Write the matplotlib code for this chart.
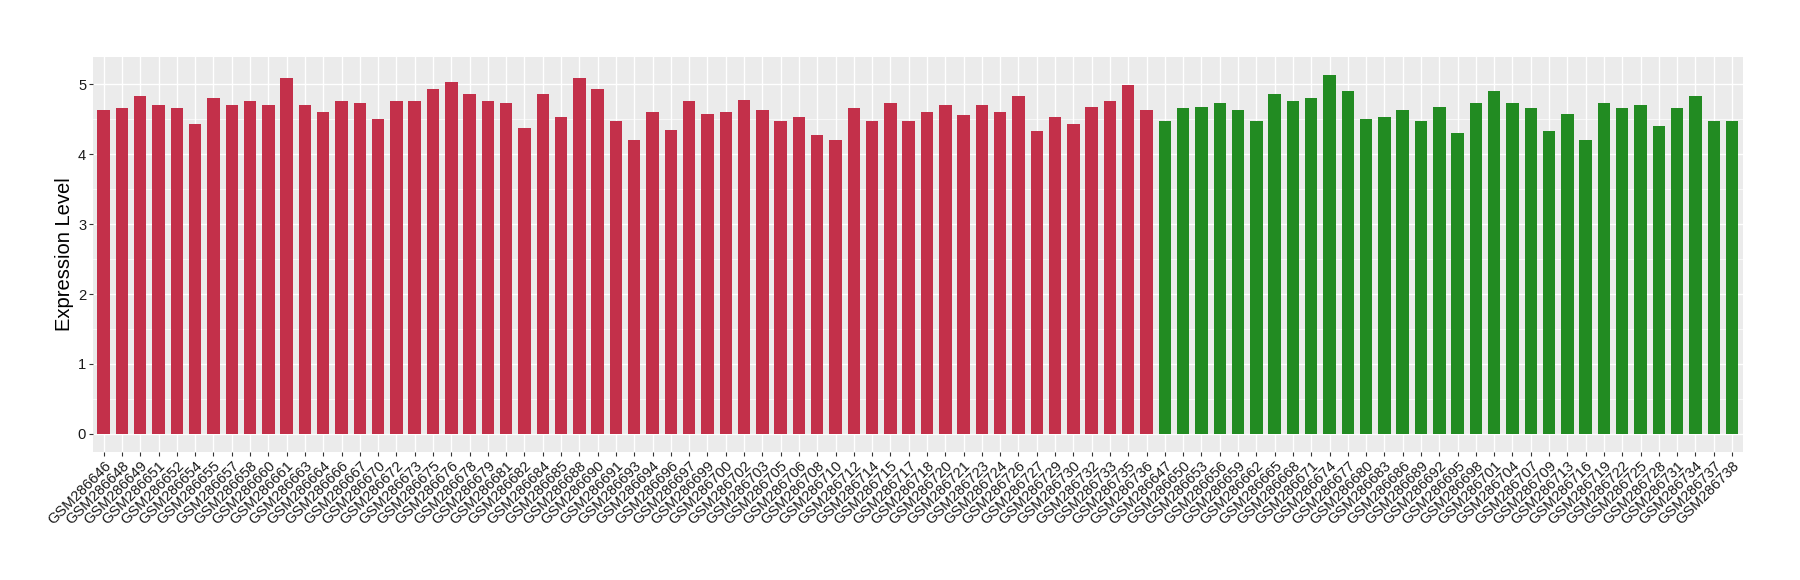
import matplotlib
matplotlib.use("Agg")
import matplotlib.pyplot as plt
from matplotlib.ticker import MultipleLocator
import numpy as np

group1_samples = ["GSM286646", "GSM286648", "GSM286649", "GSM286651", "GSM286652", "GSM286654",
                  "GSM286655", "GSM286657", "GSM286658", "GSM286660", "GSM286661", "GSM286663",
                  "GSM286664", "GSM286666", "GSM286667", "GSM286670", "GSM286672", "GSM286673",
                  "GSM286675", "GSM286676", "GSM286678", "GSM286679", "GSM286681", "GSM286682",
                  "GSM286684", "GSM286685", "GSM286688", "GSM286690", "GSM286691", "GSM286693",
                  "GSM286694", "GSM286696", "GSM286697", "GSM286699", "GSM286700", "GSM286702",
                  "GSM286703", "GSM286705", "GSM286706", "GSM286708", "GSM286710", "GSM286712",
                  "GSM286714", "GSM286715", "GSM286717", "GSM286718", "GSM286720", "GSM286721",
                  "GSM286723", "GSM286724", "GSM286726", "GSM286727", "GSM286729", "GSM286730",
                  "GSM286732", "GSM286733", "GSM286735", "GSM286736"]
group1_values = [4.64, 4.66, 4.84, 4.71, 4.66, 4.43, 4.81, 4.71, 4.77, 4.71,
                 5.09, 4.71, 4.60, 4.76, 4.73, 4.50, 4.76, 4.77, 4.93, 5.04,
                 4.86, 4.76, 4.74, 4.38, 4.87, 4.53, 5.09, 4.93, 4.48, 4.21,
                 4.60, 4.35, 4.77, 4.58, 4.61, 4.78, 4.64, 4.47, 4.53, 4.27,
                 4.20, 4.66, 4.47, 4.73, 4.47, 4.60, 4.70, 4.56, 4.70, 4.60,
                 4.84, 4.33, 4.53, 4.44, 4.68, 4.76, 4.99, 4.64]

group2_samples = ["GSM286647", "GSM286650", "GSM286653", "GSM286656", "GSM286659", "GSM286662",
                  "GSM286665", "GSM286668", "GSM286671", "GSM286674", "GSM286677", "GSM286680",
                  "GSM286683", "GSM286686", "GSM286689", "GSM286692", "GSM286695", "GSM286698",
                  "GSM286701", "GSM286704", "GSM286707", "GSM286709", "GSM286713", "GSM286716",
                  "GSM286719", "GSM286722", "GSM286725", "GSM286728", "GSM286731", "GSM286734",
                  "GSM286737", "GSM286738"]
group2_values = [4.48, 4.66, 4.67, 4.74, 4.64, 4.48, 4.87, 4.77, 4.80, 5.14,
                 4.90, 4.51, 4.53, 4.63, 4.47, 4.67, 4.30, 4.74, 4.91, 4.74,
                 4.66, 4.33, 4.57, 4.21, 4.74, 4.66, 4.71, 4.41, 4.66, 4.84,
                 4.47, 4.48]

group1_color = "#C3304A"
group2_color = "#228B22"

plt.rcParams['font.family'] = ['Liberation Sans', 'DejaVu Sans']

samples = group1_samples + group2_samples
values = group1_values + group2_values
colors = [group1_color] * len(group1_samples) + [group2_color] * len(group2_samples)
x = np.arange(len(samples))

fig = plt.figure(figsize=(18, 5.8), dpi=100)
ax = fig.add_axes([92.7 / 1800, (580 - 451.7) / 580, (1743 - 92.7) / 1800, (451.7 - 56.7) / 580])
ax.set_facecolor("#EBEBEB")

ax.bar(x, values, width=0.68, color=colors, zorder=3)

ymax = max(values)
ax.set_ylim(-0.05 * ymax, ymax * 1.05)
ax.set_xlim(-0.6, len(samples) - 1 + 0.6)

ax.yaxis.set_major_locator(MultipleLocator(1))
ax.yaxis.set_minor_locator(MultipleLocator(0.5))
ax.set_xticks(x)
ax.set_xticklabels(samples, rotation=45, ha='right', va='top', rotation_mode='anchor', fontsize=10.6)
for lab in ax.get_yticklabels():
    lab.set_fontsize(10.6)

ax.grid(which='major', color='white', linewidth=1.0, zorder=0)
ax.grid(which='minor', axis='y', color='white', linewidth=0.5, zorder=0)
ax.set_axisbelow(True)

for s in ax.spines.values():
    s.set_visible(False)

ax.tick_params(axis='both', which='major', length=2.7, width=0.8, color='#333333',
               labelcolor='#1A1A1A', pad=2)
ax.tick_params(axis='y', which='minor', length=0)

ax.set_ylabel("Expression Level", fontsize=14.5, labelpad=3)

fig.savefig("out.png", dpi=100)
